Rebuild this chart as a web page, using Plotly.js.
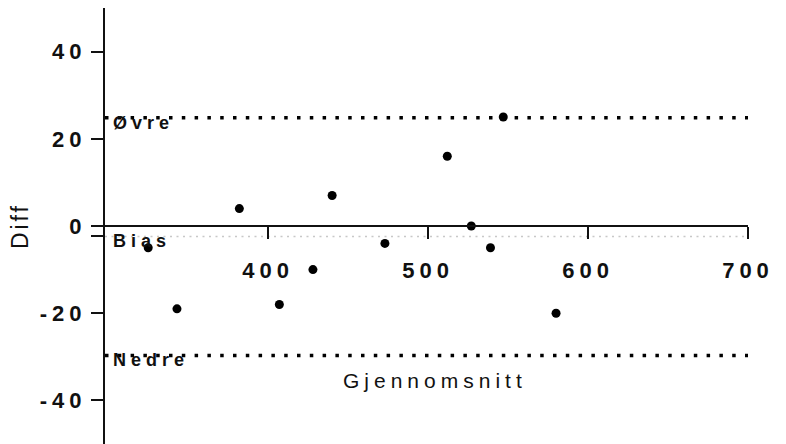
<!DOCTYPE html>
<html>
<head>
<meta charset="utf-8">
<script src="https://cdn.plot.ly/plotly-3.0.1.min.js"></script>
<style>
  html, body { margin: 0; padding: 0; background: #fff; }
  #chart { width: 786px; height: 444px; }
  .xtick text, .ytick text { letter-spacing: 5px; }
  .annotation-text { letter-spacing: 5px; }
  .annotation[data-index="4"] .annotation-text { letter-spacing: 3px; }
</style>
</head>
<body>
<div id="chart"></div>
<script>
// Data (Bland-Altman plot)
const xMean = [325, 343, 382, 407, 428, 440, 473, 512, 527, 539, 547, 580];
const yDiff = [-5, -19, 4, -18, -10, 7, -4, 16, 0, -5, 25, -20];

const biasValue = -2.4;
const upperLimit = 24.8;
const lowerLimit = -29.7;

const limitNames = ['Øvre', 'Bias', 'Nedre'];
const limitValues = [upperLimit, biasValue, lowerLimit];

const xRange = [298, 700];
const yRange = [-50, 50];
const xTickVals = [400, 500, 600, 700];
const xTickText = ['400', '500', '600', '700'];
const yTickVals = [-40, -20, 0, 20, 40];
const yTickText = ['-40', '-20', '0', '20', '40'];

const xTitle = 'Gjennomsnitt';
const yTitle = 'Diff';

const FONT = 'Liberation Sans, Arial, Helvetica, sans-serif';

const trace = {
  type: 'scatter',
  mode: 'markers',
  x: xMean,
  y: yDiff,
  marker: { color: '#000', size: 9 },
  hoverinfo: 'x+y',
  showlegend: false
};

const lineStyles = [
  { color: '#000', width: 3.5, dash: '3.5px,9.3px' },
  { color: '#c8c8c8', width: 1.5, dash: '2px,4.5px' },
  { color: '#000', width: 3.5, dash: '3.5px,9.3px' }
];

const shapes = limitValues.map((v, i) => ({
  type: 'line', xref: 'paper', yref: 'y',
  x0: 0, x1: 1, y0: v, y1: v,
  line: lineStyles[i], layer: 'below'
}));

const labelAnnotations = limitNames.map((name, i) => ({
  text: name, xref: 'paper', yref: 'y', x: 0, y: limitValues[i],
  xanchor: 'left', yanchor: 'middle', xshift: 6, yshift: -5,
  showarrow: false,
  font: { family: FONT, size: 18, color: '#111', weight: 'bold' }
}));

// y-axis ticks (plus the small tick marking the bias level)
const yAllTickVals = yTickVals.concat([biasValue]);
const yAllTickText = yTickText.concat(['']);

const layout = {
  width: 786, height: 444,
  margin: { l: 105, r: 38, t: 8, b: 0, pad: 0 },
  paper_bgcolor: '#fff', plot_bgcolor: '#fff',
  showlegend: false,
  font: { family: FONT, color: '#111' },
  xaxis: {
    range: xRange,
    anchor: 'free',
    position: (0 - yRange[0]) / (yRange[1] - yRange[0]),
    showgrid: false, zeroline: false,
    showline: true, linecolor: '#111', linewidth: 2,
    ticks: 'outside', ticklen: 12, tickwidth: 2, tickcolor: '#111',
    tickmode: 'array', tickvals: xTickVals, ticktext: xTickText,
    ticklabelstandoff: 13,
    tickfont: { family: FONT, size: 22, color: '#111', weight: 'bold' }
  },
  yaxis: {
    range: yRange,
    showgrid: false, zeroline: false,
    showline: true, linecolor: '#111', linewidth: 2,
    ticks: 'outside', ticklen: 12, tickwidth: 2, tickcolor: '#111',
    tickmode: 'array', tickvals: yAllTickVals, ticktext: yAllTickText,
    tickfont: { family: FONT, size: 22, color: '#111', weight: 'bold' }
  },
  shapes: shapes,
  annotations: labelAnnotations.concat([
    {
      text: xTitle, xref: 'paper', yref: 'paper', x: 0.5, y: 0.1445,
      xanchor: 'center', yanchor: 'middle', xshift: 8, showarrow: false,
      font: { family: FONT, size: 21, color: '#111' }
    },
    {
      text: yTitle, xref: 'paper', yref: 'paper', x: -0.132, y: 0.5,
      xanchor: 'center', yanchor: 'middle', textangle: -90, showarrow: false,
      font: { family: FONT, size: 23, color: '#111' }
    }
  ])
};

Plotly.newPlot('chart', [trace], layout, { displayModeBar: false, staticPlot: true });
</script>
</body>
</html>
